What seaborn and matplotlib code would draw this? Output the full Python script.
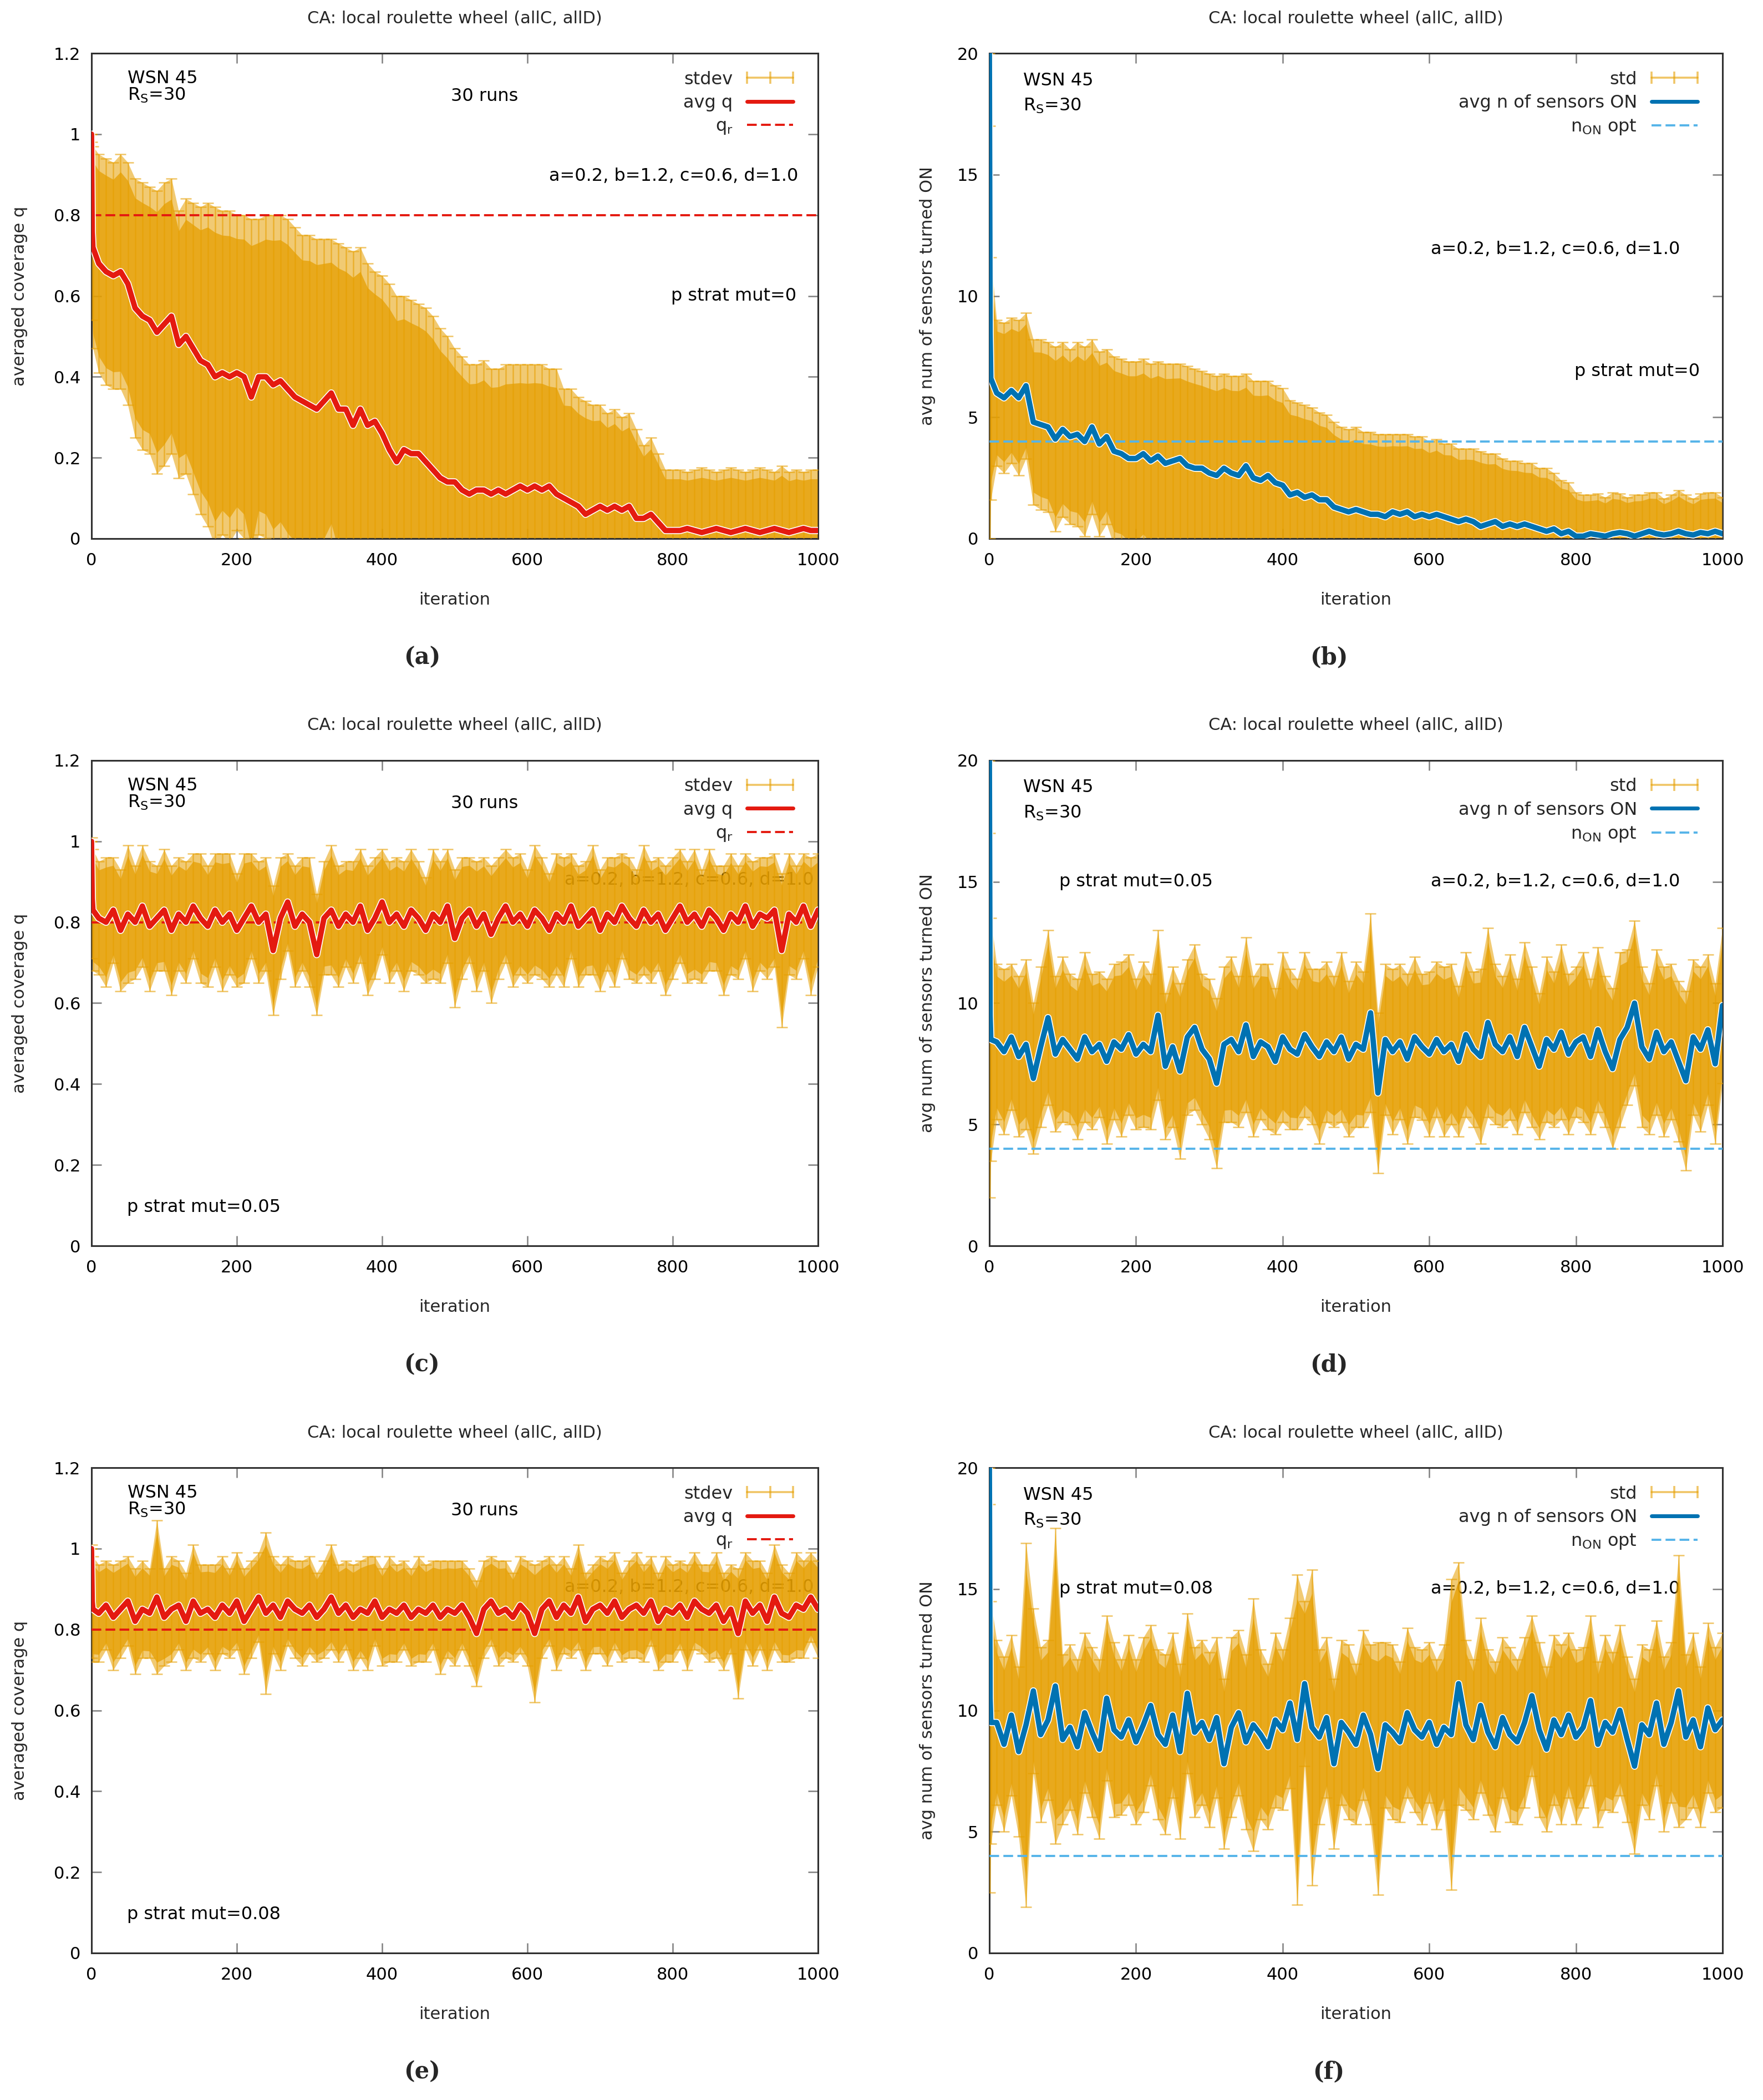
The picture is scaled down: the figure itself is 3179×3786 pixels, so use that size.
import numpy as np
import pandas as pd
import seaborn as sns
import matplotlib.pyplot as plt
import matplotlib.patheffects as pe
from matplotlib.lines import Line2D

# iterations sampled: first steps, then every 10th iteration
iters = [0, 1, 2] + list(range(10, 1001, 10))

# reference levels
q_ref = 0.8
n_on_opt = 4

# (a) coverage, p strat mut = 0
q_a_mean = [1.00, 0.76, 0.72,
            0.68, 0.66, 0.65, 0.66, 0.63, 0.57, 0.55, 0.54, 0.51, 0.53,
            0.55, 0.48, 0.50, 0.47, 0.44, 0.43, 0.40, 0.41, 0.40, 0.41,
            0.40, 0.35, 0.40, 0.40, 0.38, 0.39, 0.37, 0.35, 0.34, 0.33,
            0.32, 0.34, 0.36, 0.32, 0.32, 0.28, 0.32, 0.28, 0.29, 0.26,
            0.22, 0.19, 0.22, 0.21, 0.21, 0.19, 0.17, 0.15, 0.14, 0.14,
            0.12, 0.11, 0.12, 0.12, 0.11, 0.12, 0.11, 0.12, 0.13, 0.12,
            0.13, 0.12, 0.13, 0.11, 0.10, 0.09, 0.08, 0.06, 0.07, 0.08,
            0.07, 0.08, 0.07, 0.08, 0.05, 0.05, 0.06, 0.04, 0.02, 0.02,
            0.02, 0.025, 0.02, 0.015, 0.02, 0.025, 0.02, 0.015, 0.02, 0.025,
            0.02, 0.015, 0.02, 0.025, 0.02, 0.015, 0.02, 0.025, 0.02, 0.02]
q_a_std = [0.00, 0.22, 0.25,
           0.27, 0.28, 0.28, 0.29, 0.30, 0.32, 0.33, 0.33, 0.35, 0.35,
           0.34, 0.33, 0.34, 0.36, 0.38, 0.40, 0.42, 0.40, 0.41, 0.39,
           0.40, 0.44, 0.39, 0.40, 0.42, 0.41, 0.42, 0.42, 0.41, 0.42,
           0.42, 0.40, 0.38, 0.41, 0.40, 0.43, 0.40, 0.40, 0.37, 0.39,
           0.41, 0.41, 0.38, 0.38, 0.37, 0.38, 0.38, 0.37, 0.36, 0.33,
           0.33, 0.32, 0.31, 0.32, 0.31, 0.30, 0.32, 0.31, 0.30, 0.31,
           0.30, 0.31, 0.29, 0.31, 0.27, 0.28, 0.27, 0.28, 0.26, 0.25,
           0.24, 0.24, 0.23, 0.23, 0.22, 0.18, 0.19, 0.17, 0.15, 0.15,
           0.15, 0.14, 0.15, 0.16, 0.15, 0.14, 0.15, 0.16, 0.15, 0.14,
           0.15, 0.16, 0.15, 0.14, 0.16, 0.15, 0.15, 0.14, 0.15, 0.15]

# (b) sensors ON, p strat mut = 0
n_b_mean = [20.0, 8.5, 6.6,
            6.0, 5.8, 6.1, 5.8, 6.3, 4.8, 4.7, 4.6, 4.1, 4.5,
            4.2, 4.3, 4.0, 4.6, 3.9, 4.2, 3.6, 3.5, 3.3, 3.3,
            3.5, 3.2, 3.4, 3.1, 3.2, 3.3, 3.0, 2.9, 2.9, 2.7,
            2.6, 2.9, 2.7, 2.6, 3.0, 2.5, 2.4, 2.6, 2.3, 2.2,
            1.8, 1.9, 1.7, 1.8, 1.6, 1.6, 1.3, 1.2, 1.1, 1.2,
            1.1, 1.0, 1.0, 0.9, 1.1, 1.0, 1.1, 0.9, 1.0, 0.9,
            1.0, 0.9, 0.8, 0.7, 0.8, 0.7, 0.5, 0.6, 0.7, 0.5,
            0.6, 0.5, 0.6, 0.5, 0.4, 0.3, 0.4, 0.2, 0.3, 0.1,
            0.1, 0.2, 0.15, 0.1, 0.2, 0.25, 0.2, 0.1, 0.2, 0.3,
            0.2, 0.15, 0.2, 0.3, 0.2, 0.15, 0.25, 0.2, 0.3, 0.2]
n_b_std = [0.0, 8.5, 5.0,
           3.0, 3.1, 3.0, 3.2, 3.0, 3.4, 3.5, 3.5, 3.8, 3.6,
           3.6, 3.8, 3.9, 3.6, 3.8, 3.6, 3.9, 3.9, 4.0, 4.0,
           3.9, 4.0, 3.9, 4.1, 4.0, 3.9, 4.1, 4.1, 4.0, 4.1,
           4.1, 3.9, 4.0, 4.1, 3.8, 4.0, 4.1, 3.9, 4.0, 4.0,
           3.9, 3.7, 3.8, 3.6, 3.6, 3.5, 3.5, 3.4, 3.4, 3.4,
           3.3, 3.4, 3.3, 3.4, 3.2, 3.3, 3.2, 3.3, 3.2, 3.1,
           3.1, 3.0, 3.1, 3.0, 2.9, 3.0, 3.1, 2.9, 2.8, 2.8,
           2.6, 2.7, 2.5, 2.6, 2.5, 2.6, 2.3, 2.2, 2.0, 1.8,
           1.7, 1.6, 1.7, 1.6, 1.7, 1.6, 1.5, 1.7, 1.6, 1.6,
           1.7, 1.5, 1.6, 1.7, 1.6, 1.5, 1.6, 1.7, 1.6, 1.5]

# (c) coverage, p strat mut = 0.05
q_c_mean = [1.00, 0.86, 0.83,
            0.81, 0.80, 0.83, 0.78, 0.82, 0.80, 0.84, 0.79, 0.81, 0.83,
            0.78, 0.82, 0.80, 0.84, 0.81, 0.79, 0.83, 0.80, 0.82, 0.78,
            0.81, 0.84, 0.80, 0.82, 0.73, 0.81, 0.85, 0.79, 0.82, 0.80,
            0.72, 0.81, 0.83, 0.79, 0.82, 0.80, 0.84, 0.78, 0.81, 0.85,
            0.80, 0.82, 0.79, 0.83, 0.81, 0.78, 0.82, 0.80, 0.84, 0.76,
            0.81, 0.83, 0.79, 0.82, 0.77, 0.81, 0.84, 0.80, 0.82, 0.79,
            0.83, 0.81, 0.78, 0.82, 0.80, 0.84, 0.79, 0.81, 0.83, 0.78,
            0.82, 0.80, 0.84, 0.81, 0.79, 0.83, 0.80, 0.82, 0.78, 0.81,
            0.84, 0.80, 0.82, 0.79, 0.83, 0.81, 0.78, 0.82, 0.80, 0.84,
            0.79, 0.82, 0.81, 0.83, 0.73, 0.82, 0.80, 0.84, 0.79, 0.83]
q_c_std = [0.00, 0.15, 0.15,
           0.14, 0.16, 0.13, 0.15, 0.17, 0.14, 0.15, 0.16, 0.13, 0.15,
           0.16, 0.14, 0.15, 0.13, 0.16, 0.15, 0.14, 0.17, 0.15, 0.14,
           0.16, 0.13, 0.15, 0.14, 0.16, 0.15, 0.12, 0.15, 0.14, 0.16,
           0.15, 0.14, 0.16, 0.15, 0.13, 0.15, 0.14, 0.16, 0.15, 0.13,
           0.15, 0.14, 0.16, 0.15, 0.14, 0.13, 0.16, 0.15, 0.14, 0.17,
           0.15, 0.13, 0.16, 0.14, 0.17, 0.15, 0.14, 0.16, 0.15, 0.14,
           0.16, 0.15, 0.14, 0.15, 0.16, 0.13, 0.15, 0.14, 0.16, 0.15,
           0.14, 0.16, 0.13, 0.15, 0.14, 0.16, 0.15, 0.14, 0.16, 0.15,
           0.14, 0.15, 0.16, 0.14, 0.15, 0.13, 0.16, 0.15, 0.14, 0.13,
           0.16, 0.14, 0.15, 0.14, 0.19, 0.15, 0.14, 0.13, 0.17, 0.14]

# (d) sensors ON, p strat mut = 0.05
n_d_mean = [20.0, 9.5, 8.5,
            8.4, 8.0, 8.6, 7.8, 8.3, 6.9, 8.2, 9.4, 7.9, 8.5,
            8.1, 7.7, 8.6, 8.0, 8.3, 7.6, 8.4, 8.1, 8.7, 7.9,
            8.3, 8.0, 9.5, 7.4, 8.2, 7.2, 8.6, 9.0, 8.1, 7.7,
            6.7, 8.3, 8.5, 8.0, 9.1, 7.8, 8.4, 8.2, 7.6, 8.6,
            8.1, 7.9, 8.7, 8.2, 7.8, 8.4, 8.0, 8.6, 7.7, 8.3,
            8.1, 9.6, 6.3, 8.5, 8.0, 8.4, 7.7, 8.6, 8.2, 7.9,
            8.5, 8.0, 8.3, 7.6, 8.7, 8.1, 7.8, 9.2, 8.3, 8.0,
            8.6, 7.8, 9.0, 8.2, 7.4, 8.5, 8.1, 8.8, 7.9, 8.4,
            8.6, 7.8, 8.9, 8.0, 7.3, 8.5, 9.0, 10.0, 8.2, 7.7,
            8.8, 8.0, 8.4, 7.6, 6.8, 8.6, 8.1, 8.9, 7.5, 9.9]
n_d_std = [0.0, 7.5, 5.0,
           3.2, 3.4, 3.0, 3.3, 3.5, 3.1, 3.3, 3.6, 3.2, 3.4,
           3.1, 3.3, 3.5, 3.2, 3.0, 3.4, 3.2, 3.6, 3.3, 3.1,
           3.4, 3.2, 3.5, 3.0, 3.3, 3.6, 3.2, 3.4, 3.1, 3.3,
           3.5, 3.2, 3.4, 3.1, 3.6, 3.3, 3.2, 3.4, 3.0, 3.5,
           3.3, 3.1, 3.4, 3.2, 3.6, 3.3, 3.1, 3.5, 3.2, 3.4,
           3.2, 4.1, 3.3, 3.1, 3.4, 3.2, 3.5, 3.3, 3.0, 3.4,
           3.2, 3.5, 3.3, 3.1, 3.4, 3.2, 3.6, 3.9, 3.3, 3.1,
           3.4, 3.2, 3.5, 3.3, 3.0, 3.4, 3.2, 3.6, 3.3, 3.1,
           3.5, 3.2, 3.4, 3.1, 3.3, 3.6, 3.2, 3.4, 3.3, 3.1,
           3.4, 3.5, 3.2, 3.3, 3.7, 3.2, 3.4, 3.1, 3.3, 3.2]

# (e) coverage, p strat mut = 0.08
q_e_mean = [1.00, 0.87, 0.85,
            0.84, 0.86, 0.83, 0.85, 0.87, 0.82, 0.85, 0.84, 0.88, 0.83,
            0.85, 0.86, 0.82, 0.87, 0.84, 0.85, 0.83, 0.86, 0.84, 0.87,
            0.82, 0.85, 0.88, 0.84, 0.86, 0.83, 0.87, 0.85, 0.84, 0.86,
            0.83, 0.85, 0.88, 0.84, 0.86, 0.83, 0.85, 0.84, 0.87, 0.83,
            0.85, 0.84, 0.86, 0.83, 0.85, 0.84, 0.86, 0.83, 0.85, 0.84,
            0.86, 0.83, 0.79, 0.85, 0.87, 0.84, 0.85, 0.83, 0.86, 0.84,
            0.79, 0.85, 0.87, 0.83, 0.86, 0.84, 0.88, 0.82, 0.85, 0.86,
            0.84, 0.87, 0.83, 0.85, 0.86, 0.84, 0.87, 0.82, 0.85, 0.84,
            0.86, 0.83, 0.87, 0.85, 0.84, 0.86, 0.82, 0.85, 0.79, 0.87,
            0.84, 0.86, 0.82, 0.88, 0.84, 0.83, 0.86, 0.85, 0.88, 0.85]
q_e_std = [0.00, 0.14, 0.13,
           0.12, 0.11, 0.13, 0.12, 0.11, 0.13, 0.12, 0.11, 0.19, 0.12,
           0.13, 0.11, 0.12, 0.14, 0.12, 0.11, 0.13, 0.12, 0.11, 0.12,
           0.13, 0.12, 0.11, 0.20, 0.12, 0.13, 0.11, 0.12, 0.13, 0.12,
           0.11, 0.12, 0.13, 0.12, 0.11, 0.13, 0.12, 0.14, 0.11, 0.12,
           0.13, 0.12, 0.11, 0.12, 0.13, 0.12, 0.11, 0.14, 0.12, 0.13,
           0.11, 0.12, 0.13, 0.12, 0.11, 0.13, 0.12, 0.11, 0.12, 0.13,
           0.17, 0.12, 0.11, 0.13, 0.12, 0.11, 0.13, 0.12, 0.11, 0.12,
           0.13, 0.12, 0.11, 0.12, 0.13, 0.12, 0.11, 0.12, 0.13, 0.12,
           0.11, 0.13, 0.12, 0.11, 0.12, 0.13, 0.12, 0.11, 0.16, 0.12,
           0.13, 0.11, 0.12, 0.13, 0.12, 0.11, 0.13, 0.12, 0.11, 0.12]

# (f) sensors ON, p strat mut = 0.08
n_f_mean = [20.0, 10.5, 9.5,
            9.5, 8.6, 9.8, 8.3, 9.4, 10.8, 9.0, 9.6, 11.0, 8.8,
            9.3, 8.5, 9.9, 9.1, 8.4, 10.5, 9.2, 8.9, 9.6, 8.7,
            9.4, 10.2, 9.0, 8.6, 9.8, 8.3, 10.7, 9.1, 9.5, 8.8,
            9.7, 7.8, 9.3, 9.9, 8.7, 9.4, 9.0, 8.5, 9.6, 9.2,
            10.3, 8.8, 11.1, 9.3, 8.9, 9.7, 7.8, 9.5, 9.1, 8.6,
            9.8, 9.0, 7.6, 9.4, 9.1, 8.7, 9.9, 9.2, 8.9, 9.5,
            8.6, 9.3, 9.0, 11.1, 9.4, 8.8, 10.2, 9.1, 8.5, 9.7,
            9.0, 8.7, 9.5, 10.6, 9.2, 8.4, 9.6, 9.0, 9.8, 8.9,
            9.3, 10.4, 8.6, 9.5, 9.1, 10.0, 8.8, 7.7, 9.4, 9.0,
            10.3, 8.6, 9.5, 10.8, 8.9, 9.6, 8.5, 10.1, 9.2, 9.6]
n_f_std = [0.0, 8.0, 5.0,
           3.4, 3.6, 3.3, 3.5, 7.5, 3.4, 3.6, 3.3, 6.5, 3.5,
           3.4, 3.6, 3.3, 3.5, 3.7, 3.4, 3.6, 3.2, 3.5, 3.4,
           3.6, 3.3, 3.5, 3.7, 3.4, 3.6, 3.3, 3.5, 3.4, 3.6,
           3.3, 3.5, 3.7, 3.4, 3.6, 5.2, 3.5, 3.4, 3.6, 3.3,
           3.5, 6.8, 3.4, 6.5, 3.6, 3.3, 3.5, 3.4, 3.6, 3.3,
           3.5, 3.7, 5.2, 3.4, 3.6, 3.3, 3.5, 3.4, 3.6, 3.3,
           3.5, 3.4, 6.4, 5.0, 3.5, 3.3, 3.6, 3.4, 3.5, 3.3,
           3.6, 3.4, 3.5, 3.3, 3.6, 3.4, 3.5, 3.7, 3.4, 3.6,
           3.3, 3.5, 3.4, 3.6, 3.3, 3.5, 3.4, 3.6, 3.3, 3.5,
           3.4, 3.6, 3.3, 5.6, 3.4, 3.6, 3.3, 3.5, 3.4, 3.6]

ORANGE = "#E69F00"
RED = "#E41A10"
BLUE = "#0072B2"
LIGHTBLUE = "#56B4E9"

sns.set_theme(style="ticks")
plt.rcParams.update({
    "font.family": ["DejaVu Sans"],
    "font.size": 11,
    "axes.linewidth": 1.1,
    "axes.edgecolor": "#303030",
    "xtick.direction": "in",
    "ytick.direction": "in",
    "xtick.top": True,
    "ytick.right": True,
    "xtick.major.size": 6.5,
    "ytick.major.size": 6.5,
    "xtick.major.width": 0.9,
    "ytick.major.width": 0.9,
    "xtick.color": "#808080",
    "ytick.color": "#808080",
    "xtick.labelcolor": "black",
    "ytick.labelcolor": "black",
    "xtick.labelsize": 11,
    "ytick.labelsize": 11,
    "xtick.major.pad": 9,
    "ytick.major.pad": 7,
})

W, H = 3179, 3786
fig = plt.figure(figsize=(W / 200, H / 200), dpi=200)

col_left = [165 / W, 1784 / W]
col_width = [1310 / W, 1322 / W]
row_bottom = [1 - 971 / H, 1 - 2246 / H, 1 - 3521 / H]
row_height = 875 / H

panels = [
    dict(kind="q", mean=q_a_mean, std=q_a_std, mut="p strat mut=0", tag="(a)"),
    dict(kind="n", mean=n_b_mean, std=n_b_std, mut="p strat mut=0", tag="(b)"),
    dict(kind="q", mean=q_c_mean, std=q_c_std, mut="p strat mut=0.05", tag="(c)"),
    dict(kind="n", mean=n_d_mean, std=n_d_std, mut="p strat mut=0.05", tag="(d)"),
    dict(kind="q", mean=q_e_mean, std=q_e_std, mut="p strat mut=0.08", tag="(e)"),
    dict(kind="n", mean=n_f_mean, std=n_f_std, mut="p strat mut=0.08", tag="(f)"),
]

params_txt = "a=0.2, b=1.2, c=0.6, d=1.0"
caption_x = [761 / W, 2396 / W]
caption_y = [1 - 1185 / H, 1 - 2460 / H, 1 - 3735 / H]

for i, p in enumerate(panels):
    row, col = divmod(i, 2)
    assert len(p["mean"]) == len(iters) and len(p["std"]) == len(iters)
    ax = fig.add_axes([col_left[col], row_bottom[row], col_width[col], row_height])
    df = pd.DataFrame({"iteration": iters, "mean": p["mean"], "std": p["std"]})

    # stdev band: light outer fringe, denser core, then the bars themselves
    ax.fill_between(df["iteration"], df["mean"] - df["std"], df["mean"] + df["std"],
                    color=ORANGE, alpha=0.55, lw=0, zorder=2)
    ax.fill_between(df["iteration"], df["mean"] - 0.85 * df["std"], df["mean"] + 0.85 * df["std"],
                    color=ORANGE, alpha=0.75, lw=0, zorder=2)
    ax.errorbar(df["iteration"], df["mean"], yerr=df["std"], fmt="none",
                ecolor=ORANGE, elinewidth=0.9, capsize=3.5, capthick=0.9,
                alpha=0.6, zorder=3)

    if p["kind"] == "q":
        line_col, ref_col, ref_val = RED, RED, q_ref
        labels = ["stdev", "avg q", r"q$_\mathrm{r}$"]
        ax.set_ylim(0, 1.2)
        ax.set_yticks([0, 0.2, 0.4, 0.6, 0.8, 1.0, 1.2])
        ax.set_yticklabels(["0", "0.2", "0.4", "0.6", "0.8", "1", "1.2"])
        ylabel = "averaged coverage q"
        ylab_x = -0.088
    else:
        line_col, ref_col, ref_val = BLUE, LIGHTBLUE, n_on_opt
        labels = ["std", "avg n of sensors ON", r"n$_\mathrm{ON}$ opt"]
        ax.set_ylim(0, 20)
        ax.set_yticks([0, 5, 10, 15, 20])
        ylabel = "avg num of sensors turned ON"
        ylab_x = -0.073

    ax.axhline(ref_val, color=ref_col, lw=1.4, ls=(0, (4.5, 2)), zorder=4)
    sns.lineplot(data=df, x="iteration", y="mean", ax=ax, color=line_col,
                 lw=3.5, errorbar=None, zorder=5,
                 path_effects=[pe.Stroke(linewidth=4.7, foreground="white"), pe.Normal()])

    ax.set_xlim(0, 1000)
    ax.set_xticks([0, 200, 400, 600, 800, 1000])
    ax.set_xlabel("iteration", fontsize=11)
    ax.xaxis.set_label_coords(0.5, -0.11)
    ax.set_ylabel(ylabel, fontsize=11)
    ax.yaxis.set_label_coords(ylab_x, 0.5)
    ax.text(0.5, 1.072, "CA: local roulette wheel (allC, allD)", transform=ax.transAxes,
            ha="center", va="center", fontsize=11)

    # annotations (drawn under the data like the original)
    tk = dict(transform=ax.transAxes, fontsize=11.5, zorder=1, color="black")
    if p["kind"] == "q":
        ax.text(0.0496, 0.948, "WSN 45", ha="left", va="center", **tk)
        ax.text(0.0496, 0.913, r"R$_\mathrm{S}$=30", ha="left", va="center", **tk)
        ax.text(0.541, 0.911, "30 runs", ha="center", va="center", **tk)
        if i == 0:
            ax.text(0.973, 0.747, params_txt, ha="right", va="center", **tk)
            ax.text(0.970, 0.500, p["mut"], ha="right", va="center", **tk)
        else:
            ax.text(0.994, 0.754, params_txt, ha="right", va="center", **tk)
            ax.text(0.049, 0.079, p["mut"], ha="left", va="center", **tk)
    else:
        ax.text(0.046, 0.944, "WSN 45", ha="left", va="center", **tk)
        ax.text(0.046, 0.892, r"R$_\mathrm{S}$=30", ha="left", va="center", **tk)
        if i == 1:
            ax.text(0.942, 0.596, params_txt, ha="right", va="center", **tk)
            ax.text(0.969, 0.345, p["mut"], ha="right", va="center", **tk)
        else:
            ax.text(0.942, 0.750, params_txt, ha="right", va="center", **tk)
            ax.text(0.095, 0.750, p["mut"], ha="left", va="center", **tk)

    handles = [
        Line2D([], [], color=ORANGE, alpha=0.6, lw=1.3, marker="|", markersize=8, markeredgewidth=1.3),
        Line2D([], [], color=line_col, lw=2.5),
        Line2D([], [], color=ref_col, lw=1.4, ls=(0, (4.5, 2))),
    ]
    leg = ax.legend(handles, labels, loc="upper right", bbox_to_anchor=(0.973, 0.964),
                    frameon=False, markerfirst=False, numpoints=3, fontsize=11.5,
                    handlelength=3.2, handletextpad=0.5, labelspacing=0.35,
                    borderpad=0, borderaxespad=0)
    leg.set_zorder(6)

    fig.text(caption_x[col], caption_y[row], p["tag"], ha="center", va="center",
             fontsize=15, family="DejaVu Serif", fontweight="bold")

fig.savefig("out.png", dpi=200)
